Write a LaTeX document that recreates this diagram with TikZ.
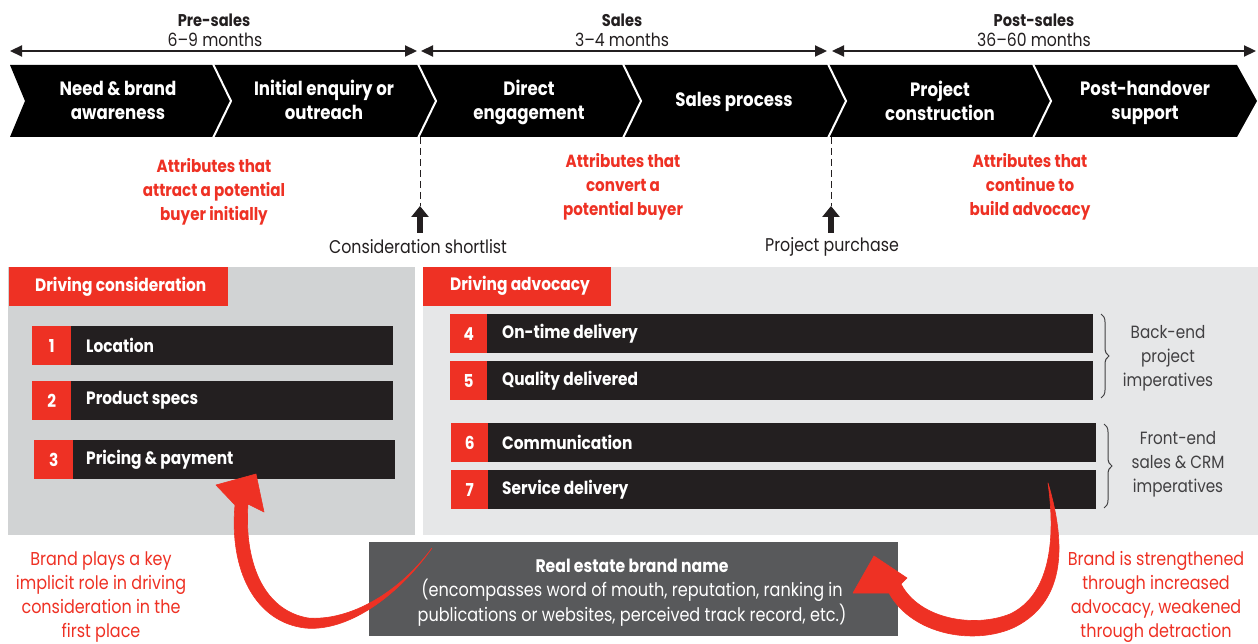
\documentclass[tikz,border=0pt]{standalone}
\usepackage{fontspec}
\setmainfont{Poppins}[FakeStretch=0.86]
\usetikzlibrary{arrows.meta,decorations.pathreplacing}
\definecolor{bred}{HTML}{EE3124}
\definecolor{rowblk}{HTML}{231F20}
\definecolor{lgray}{HTML}{D1D3D4}
\definecolor{rgray}{HTML}{E6E7E8}
\definecolor{boxgray}{HTML}{58595B}
\definecolor{txt}{HTML}{231F20}
\definecolor{bracetxt}{HTML}{414042}
\begin{document}
\begin{tikzpicture}[x=1pt,y=-1pt,
  hdr/.style={font=\fontsize{17}{20}\selectfont\bfseries, text=txt, inner sep=0pt},
  sub/.style={font=\fontsize{18.2}{20}\selectfont, text=txt, inner sep=0pt},
  chev/.style={font=\fontsize{19.3}{24}\selectfont\bfseries, text=white, align=center, inner sep=0pt},
  attr/.style={font=\fontsize{17.6}{24}\selectfont\bfseries, text=bred, align=center, inner sep=0pt},
  note/.style={font=\fontsize{18.6}{24}\selectfont, text=bred, align=center, inner sep=0pt},
  milestone/.style={font=\fontsize{18.4}{20}\selectfont, text=txt, inner sep=0pt},
  tabtext/.style={font=\fontsize{17.9}{20}\selectfont\bfseries, text=white, inner sep=0pt, anchor=west},
  numsq/.style={fill=bred, text=white, font=\fontsize{17.8}{20}\selectfont\bfseries, minimum height=39pt, inner sep=0pt, anchor=north west},
  rowbar/.style={fill=rowblk, minimum height=39pt, inner sep=0pt, anchor=north west},
  rowtext/.style={font=\fontsize{17.9}{20}\selectfont\bfseries, text=white, inner sep=0pt, anchor=west},
  bracetext/.style={font=\fontsize{17.7}{24}\selectfont, text=bracetxt, align=center, inner sep=0pt},
  boxtext/.style={font=\fontsize{18.7}{24.5}\selectfont, text=white, align=center, inner sep=0pt},
  tl/.style={draw=txt, line width=2.2pt, {Triangle[length=12pt,width=11pt]}-{Triangle[length=12pt,width=11pt]}},
  dashln/.style={draw=txt, line width=1pt, dash pattern=on 7pt off 4pt},
  uparrow/.style={draw=txt, line width=6.5pt, -{Triangle[length=11pt,width=17pt]}},
  brc/.style={draw=bracetxt, line width=1pt, decorate, decoration={brace, amplitude=8pt}},
  brush/.style={fill=bred, draw=bred, line width=0.6pt, line join=round}
]
\useasboundingbox (0,0) rectangle (1258,644);

% ---- phase headers ----
\node[hdr] (presales) at (214,20) {Pre-sales};
\node[sub] (premon) at (215,40) {6–9 months};
\node[hdr] (sales) at (622,20) {Sales};
\node[sub] (salesmon) at (622,40) {3–4 months};
\node[hdr] (postsales) at (1034,20) {Post-sales};
\node[sub] (postmon) at (1034,40) {36–60 months};

\coordinate (a0) at (10,51);  \coordinate (a1) at (417,51);
\coordinate (b0) at (421,51); \coordinate (b1) at (827,51);
\coordinate (c0) at (832,51); \coordinate (c1) at (1256,51);
\draw[tl] (a0) -- (a1);
\draw[tl] (b0) -- (b1);
\draw[tl] (c0) -- (c1);

% ---- chevron band ----
\fill[black] (10,65) -- (1237,65) -- (1257,101) -- (1237,137) -- (10,137) -- (25,101) -- cycle;
\foreach \x in {213,418,623,828,1033}
  \draw[white, line width=2pt] (\x,64) -- (\x+18,101) -- (\x,138);

\node[chev] (s1) at (118,100.5) {Need \& brand\\awareness};
\node[chev] (s2) at (324,100) {Initial enquiry or\\outreach};
\node[chev] (s3) at (529,102) {Direct\\engagement};
\node[chev] (s4) at (734,102) {Sales process};
\node[chev] (s5) at (940,101) {Project\\construction};
\node[chev] (s6) at (1145,103) {Post-handover\\support};

% ---- attributes ----
\node[attr] (at1) at (214,191.5) {Attributes that\\attract a potential\\buyer initially};
\node[attr] (at2) at (623,187) {Attributes that\\convert a\\potential buyer};
\node[attr] (at3) at (1030,187) {Attributes that\\continue to\\build advocacy};

% ---- milestones ----
\coordinate (m1top) at (420,137); \coordinate (m1mid) at (420,206); \coordinate (m1bot) at (420,233);
\draw[dashln] (m1top) -- (m1mid);
\draw[uparrow] (m1bot) -- (m1mid);
\node[milestone] (cons) at (418,246.5) {Consideration shortlist};
\coordinate (m2top) at (831,137); \coordinate (m2mid) at (831,206); \coordinate (m2bot) at (831,233);
\draw[dashln] (m2top) -- (m2mid);
\draw[uparrow] (m2bot) -- (m2mid);
\node[milestone] (purch) at (832,246.5) {Project purchase};

% ---- panels ----
\fill[lgray] (8,267) rectangle (415,535);
\fill[rgray] (423,267) rectangle (1258,535);
\fill[bred] (9,267) rectangle (228,306);
\fill[bred] (423,267) rectangle (611,306);
\node[tabtext] (tab1) at (35,287) {Driving consideration};
\node[tabtext] (tab2) at (450,286) {Driving advocacy};

% left rows
\node[numsq, minimum width=39pt] (n1) at (32,326) {1};
\node[rowbar, minimum width=322pt] (r1) at (71,326) {};
\node[rowtext] (t1) at (86,345.5) {Location};
\node[numsq, minimum width=39pt] (n2) at (32,381) {2};
\node[rowbar, minimum width=322pt] (r2) at (71,381) {};
\node[rowtext] (t2) at (86,400.5) {Product specs};
\node[numsq, minimum width=39pt] (n3) at (34,440) {3};
\node[rowbar, minimum width=322pt] (r3) at (73,440) {};
\node[rowtext] (t3) at (86,459.5) {Pricing \& payment};

% right rows
\node[numsq, minimum width=37pt] (n4) at (450,314) {4};
\node[rowbar, minimum width=606pt] (r4) at (487,314) {};
\node[rowtext] (t4) at (502,333.5) {On-time delivery};
\node[numsq, minimum width=37pt] (n5) at (450,361) {5};
\node[rowbar, minimum width=606pt] (r5) at (487,361) {};
\node[rowtext] (t5) at (502,380.5) {Quality delivered};
\node[numsq, minimum width=37pt] (n6) at (451,423) {6};
\node[rowbar, minimum width=608pt] (r6) at (488,423) {};
\node[rowtext] (t6) at (502,442.5) {Communication};
\node[numsq, minimum width=37pt] (n7) at (451,470) {7};
\node[rowbar, minimum width=608pt] (r7) at (488,470) {};
\node[rowtext] (t7) at (502,489.5) {Service delivery};

% braces
\coordinate (br1a) at (1101,314); \coordinate (br1b) at (1101,398);
\draw[brc] (br1a) -- (br1b);
\node[bracetext] (bt1) at (1168,358) {Back-end\\project\\imperatives};
\coordinate (br2a) at (1104,424); \coordinate (br2b) at (1104,508);
\draw[brc] (br2a) -- (br2b);
\node[bracetext] (bt2) at (1178,464) {Front-end\\sales \& CRM\\imperatives};

% ---- brand box ----
\node[fill=boxgray, minimum width=529pt, minimum height=94pt, inner sep=0pt, anchor=north west] (brandbox) at (369,542) {};
\node[boxtext] (brandtxt) at (632,592.5) {{\fontsize{18.2}{24.5}\selectfont\bfseries Real estate brand name}\\(encompasses word of mouth, reputation, ranking in\\publications or websites, perceived track record, etc.)};

% ---- notes ----
\node[note] (noteL) at (101,597) {Brand plays a key\\implicit role in driving\\consideration in the\\first place};
\node[note] (noteR) at (1156,597) {Brand is strengthened\\through increased\\advocacy, weakened\\through detraction};

% ---- brush arrows ----
\fill[brush] (432,548) .. controls (395,600) and (345,632) .. (305,628)
  .. controls (255,622) and (229,570) .. (235,505)
  -- (216,485) -- (256,474) -- (264,512) -- (248,504)
  .. controls (244,560) and (262,610) .. (308,618)
  .. controls (345,621) and (395,598) .. (432,548) -- cycle;
\fill[brush] (1048,483) .. controls (1065,540) and (1068,600) .. (1015,627)
  .. controls (975,646) and (912,635) .. (889,593)
  -- (853,593) -- (874,556) -- (907,578) -- (901,584)
  .. controls (920,620) and (975,628) .. (1010,614)
  .. controls (1050,595) and (1056,540) .. (1048,483) -- cycle;
\end{tikzpicture}
\end{document}
